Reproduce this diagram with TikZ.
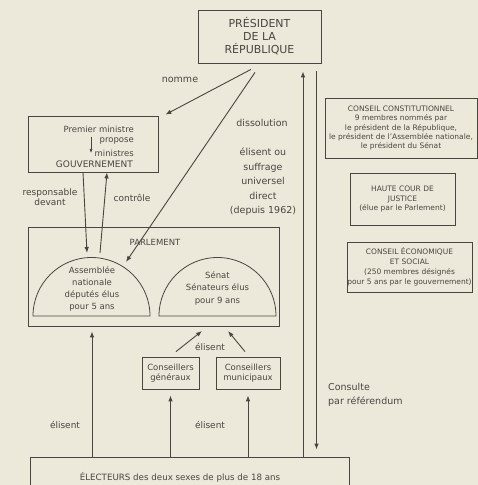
\documentclass[tikz,border=0pt]{standalone}
\usepackage{fontspec}
\setmainfont{DejaVu Sans}
\usepackage{tikz}
\usetikzlibrary{positioning,arrows.meta}

\definecolor{paper}{RGB}{236,233,218}
\definecolor{ink}{RGB}{72,70,64}

\tikzset{
  box/.style={draw=ink, line width=0.8pt, inner sep=0pt, text=ink, align=center},
  lbl/.style={text=ink, inner sep=0pt, align=center, font=\fontsize{9.5}{14.5}\selectfont},
  small/.style={font=\fontsize{7.5}{9.4}\selectfont},
  arr/.style={draw=ink, line width=0.9pt, -{Latex[length=6pt,width=4.5pt]}},
}

\begin{document}
\begin{tikzpicture}[x=1pt,y=1pt]
\useasboundingbox[fill=paper] (0,0) rectangle (478,485);
\clip (0,0) rectangle (478,485);

% president
\node[box, minimum width=123, minimum height=53, font=\fontsize{11}{13}\selectfont] (pres) at (259.5,448.5) {PRÉSIDENT\\DE LA\\RÉPUBLIQUE};

% gouvernement
\node[box, minimum width=130, minimum height=56] (gov) at (93,341) {};
\node[lbl, anchor=east, font=\fontsize{8.5}{10}\selectfont] (pm) at (134,356) {Premier ministre};
\node[lbl, anchor=east, font=\fontsize{8.5}{10}\selectfont] (prop) at (134,344) {propose};
\node[lbl, anchor=east, font=\fontsize{8.5}{10}\selectfont] (mins) at (134,332) {ministres};
\node[lbl, anchor=east, font=\fontsize{9}{10}\selectfont] (gouv) at (133,321) {GOUVERNEMENT};
\coordinate (pa) at (91,348);
\draw[arr, line width=0.6pt, -{Latex[length=4pt,width=3pt]}] (pa) -- (pa |- mins.center);

% parlement
\node[box, minimum width=251, minimum height=99] (parl) at (153.5,208.5) {};
\node[lbl, font=\fontsize{8.5}{10}\selectfont] (parltxt) at (155,243) {PARLEMENT};
\draw[ink, line width=0.8pt] (33,169) arc[start angle=180, end angle=0, radius=58.5] -- cycle;
\draw[ink, line width=0.8pt] (159,169) arc[start angle=180, end angle=0, radius=58.5] -- cycle;
\node[lbl, font=\fontsize{8.5}{11.7}\selectfont] (asm) at (92,196) {Assemblée\\nationale\\députés élus\\pour 5 ans};
\node[lbl, font=\fontsize{8.5}{12.5}\selectfont] (sen) at (217.5,197) {Sénat\\Sénateurs élus\\pour 9 ans};

% conseillers
\node[box, minimum width=57, minimum height=32, font=\fontsize{8.5}{10}\selectfont] (cgen) at (170.5,112) {Conseillers\\généraux};
\node[box, minimum width=64, minimum height=32, font=\fontsize{8.5}{10}\selectfont] (cmun) at (248,112) {Conseillers\\municipaux};

% electeurs
\node[box, minimum width=319, minimum height=34] (elect) at (189.5,11) {};
\node[lbl, font=\fontsize{8.7}{10}\selectfont] (electxt) at (180,8) {ÉLECTEURS des deux sexes de plus de 18 ans};

% organes a droite
\node[box, small, minimum width=152, minimum height=60] (cc) at (401,357) {CONSEIL CONSTITUTIONNEL\\9 membres nommés par\\le président de la République,\\le président de l'Assemblée nationale,\\le président du Sénat};
\node[box, small, minimum width=105, minimum height=52] (hcj) at (402.5,286) {HAUTE COUR DE\\JUSTICE\\(élue par le Parlement)};
\node[box, small, minimum width=125, minimum height=50, font=\fontsize{7.5}{10}\selectfont] (ces) at (409.5,218) {CONSEIL ÉCONOMIQUE\\ET SOCIAL\\(250 membres désignés\\pour 5 ans par le gouvernement)};

% fleches
\coordinate (vote) at ([xshift=43.5,yshift=-8]pres.south);
\coordinate (ref) at ([xshift=57,yshift=-8]pres.south);
\coordinate (dis) at (126,223);
\coordinate (resp) at (87,232);
\coordinate (ctrl) at (100,232);
\coordinate (senl) at (202,154);
\coordinate (senr) at (228,154);

\draw[arr] ([xshift=-8.5,yshift=-6]pres.south) -- ([xshift=7,yshift=1]gov.north east);
\draw[arr] ([xshift=-4.5,yshift=-9]pres.south) -- (dis);
\draw[arr] ([xshift=-10]gov.south) -- (resp);
\draw[arr] (ctrl) -- ([xshift=14]gov.south);
\draw[arr] (vote |- elect.north) -- (vote);
\draw[arr] (ref) -- ([yshift=7]elect.north -| ref);
\draw[arr] (elect.north -| asm) -- ([yshift=-5]parl.south -| asm);
\draw[arr] (elect.north -| cgen) -- ([yshift=-6]cgen.south);
\draw[arr] (elect.north -| cmun) -- ([yshift=-6]cmun.south);
\draw[arr] ([xshift=5.5,yshift=5]cgen.north) -- (senl);
\draw[arr] ([xshift=-3,yshift=5]cmun.north) -- (senr);

% etiquettes
\node[lbl] (nomme) at (180,405) {nomme};
\node[lbl] (dissol) at (262,362) {dissolution};
\node[lbl] (suffr) at (263,303) {élisent ou\\suffrage\\universel\\direct\\(depuis 1962)};
\node[lbl, font=\fontsize{9}{10.5}\selectfont] (respl) at (50,288) {responsable\\devant};
\node[lbl, font=\fontsize{9}{10.5}\selectfont] (ctrll) at (132,287) {contrôle};
\node[lbl, font=\fontsize{9}{10}\selectfont] (elis1) at (210,138) {élisent};
\node[lbl, font=\fontsize{9}{10}\selectfont] (elis2) at (65,60) {élisent};
\node[lbl, font=\fontsize{9}{10}\selectfont] (elis3) at (210,60) {élisent};
\node[lbl, align=left, anchor=west] (consl) at (328,90) {Consulte\\par référendum};
\end{tikzpicture}
\end{document}
